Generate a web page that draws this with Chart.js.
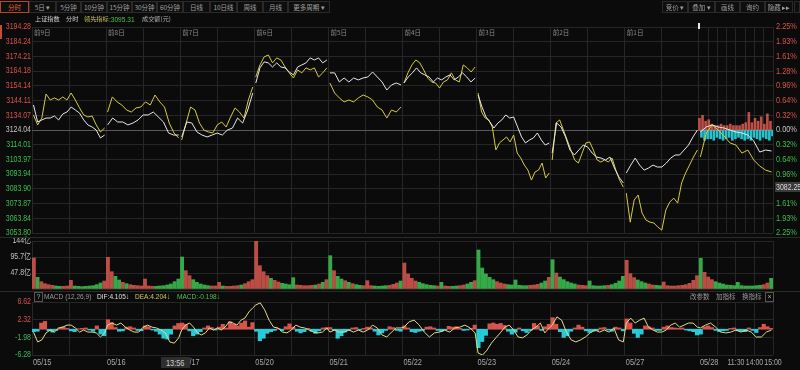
<!DOCTYPE html>
<html>
<head>
<meta charset="utf-8">
<script src="https://cdn.jsdelivr.net/npm/chart.js@4.4.1/dist/chart.umd.min.js"></script>
<style>
  html, body { margin: 0; padding: 0; background: #0b0b0b; }
  #wrap { position: relative; width: 800px; height: 370px; overflow: hidden; font-family: "Liberation Sans", Arial, sans-serif; }
  #wrap canvas { position: absolute; left: 0; top: 0; }
  .t { position: absolute; white-space: nowrap; line-height: 1; }
  .n { transform: scaleX(0.82); transform-origin: 0 50%; }
  .cn { font-family: "Noto Sans CJK SC", sans-serif; }
  .btn { position: absolute; top: 1px; height: 12px; border: 1px solid #2a2a2a; box-sizing: border-box; color: #a0a0a0; font: 6.5px "Noto Sans CJK SC", sans-serif; line-height: 10px; text-align: center; background: #0e0e0e; white-space: nowrap; overflow: hidden; }
  .sel { border-color: #b4482a; color: #e0622e; }
  .hl { position: absolute; left: 0; width: 800px; height: 1px; background: #2a2a2a; }
</style>
</head>
<body>
<div id="wrap">
  <canvas id="priceChart" width="800" height="370"></canvas>
  <canvas id="volChart" width="800" height="370"></canvas>
  <canvas id="macdChart" width="800" height="370"></canvas>

  <!-- toolbar -->
  <div class="btn sel" style="left:0;width:29px">分时</div>
  <div class="btn" style="left:29px;width:27px">5日 ▾</div>
  <div class="btn" style="left:56px;width:25px">5分钟</div>
  <div class="btn" style="left:81px;width:26px">10分钟</div>
  <div class="btn" style="left:107px;width:25px">15分钟</div>
  <div class="btn" style="left:132px;width:25px">30分钟</div>
  <div class="btn" style="left:157px;width:26px">60分钟</div>
  <div class="btn" style="left:183px;width:27px">日线</div>
  <div class="btn" style="left:210px;width:27px">10日线</div>
  <div class="btn" style="left:237px;width:26px">周线</div>
  <div class="btn" style="left:263px;width:25px">月线</div>
  <div class="btn" style="left:288px;width:42px">更多周期 ▾</div>
  <div class="btn" style="left:662px;width:26px">竞价 ▾</div>
  <div class="btn" style="left:688px;width:27px">叠加 ▾</div>
  <div class="btn" style="left:715px;width:25px">画线</div>
  <div class="btn" style="left:740px;width:25px">询约</div>
  <div class="btn" style="left:765px;width:28px">隐藏 ▸▸</div>
  <div class="btn" style="left:794px;width:6px"></div>

  <!-- legend -->
  <div class="t cn" style="left:35px;top:16px;font-size:6.2px;color:#d0d0d0">上证指数</div>
  <div class="t cn" style="left:66px;top:16px;font-size:6.2px;color:#d0d0d0">分时</div>
  <div class="t cn" style="left:84px;top:16px;font-size:6.2px;color:#c8c050">领先指标</div>
  <div class="t n" style="left:109px;top:16px;font-size:8px;color:#47c24a">:3095.31</div>
  <div class="t cn" style="left:142px;top:16px;font-size:6.2px;color:#b0b0b0">成交额(元)</div>
  <div style="position:absolute;left:0;top:25px;width:2px;height:14px;background:#c0502a"></div>

  <div class="hl" style="top:237px"></div>
  <div class="hl" style="top:291px"></div>

  <!-- MACD header -->
  <div class="t" style="left:34px;top:292px;width:7px;height:8px;border:1px solid #555;color:#aaa;font-size:7px;text-align:center;line-height:8px">?</div>
  <div class="t n" style="left:44px;top:293px;font-size:8px;color:#9a9a9a">MACD (12,26,9)</div>
  <div class="t n" style="left:97px;top:293px;font-size:8px;color:#e0e0e0">DIF:4.105↓</div>
  <div class="t n" style="left:135px;top:293px;font-size:8px;color:#d2c860">DEA:4.204↓</div>
  <div class="t n" style="left:177px;top:293px;font-size:8px;color:#4cc24c">MACD:-0.198↓</div>
  <div class="t cn" style="left:690px;top:293px;font-size:6.5px;color:#9a9a9a">改参数</div>
  <div class="t cn" style="left:716px;top:293px;font-size:6.5px;color:#9a9a9a">加指标</div>
  <div class="t cn" style="left:742px;top:293px;font-size:6.5px;color:#9a9a9a">换指标</div>
  <div class="t" style="left:765px;top:292px;width:7px;height:8px;border:1px solid #555;color:#aaa;font-size:7px;text-align:center;line-height:8px">×</div>

  <!-- crosshair readouts -->
  <div class="t" style="left:775px;top:182px;width:25px;height:10px;overflow:hidden;background:#3a3a3a"><div class="t n" style="left:1px;top:1px;font-size:8.5px;color:#d8d8d8">3082.25</div></div>
  <div class="t" style="left:161px;top:357px;width:29px;height:11px;background:#2e2e2e"><div class="t n" style="left:5px;top:1.5px;font-size:9px;color:#cfcfcf">13:56</div></div>
</div>

<script>
// ---- data ----
const days = ['05/15', '05/16', '05/17', '05/20', '05/21', '05/22', '05/23', '05/24', '05/27', '05/28'];
const dayTags = ['前9日', '前8日', '前7日', '前6日', '前5日', '前4日', '前3日', '前2日', '前1日'];
const timeLabels = ['11:30', '14:00', '15:00'];
const prevClose = 3124.04;
const priceTicks = [3194.28, 3184.24, 3174.21, 3164.18, 3154.14, 3144.11, 3134.07, 3124.04, 3114.01, 3103.97, 3093.94, 3083.90, 3073.87, 3063.84, 3053.80];
const pctTicks = ['2.25%', '1.93%', '1.61%', '1.28%', '0.96%', '0.64%', '0.32%', '0.00%', '0.32%', '0.64%', '0.96%', '1.28%', '1.61%', '1.93%', '2.25%'];

// 上证指数 (white), one list per day
const indexLine = [
  [3141.1, 3129.5, 3130.9, 3132.2, 3132.2, 3133.6, 3130.9, 3135.0, 3136.3, 3139.7, 3137.7, 3135.6, 3130.9, 3127.5, 3126.1, 3124.0, 3118.6, 3120.6],
  [3127.5, 3132.2, 3129.5, 3129.5, 3127.5, 3128.8, 3130.9, 3134.3, 3134.3, 3136.3, 3132.9, 3129.5, 3122.0, 3120.6, 3120.6],
  [3119.3, 3129.5, 3128.8, 3122.7, 3120.6, 3119.3, 3120.6, 3122.0, 3120.6, 3124.0, 3125.4, 3132.2, 3128.8, 3137.7, 3149.3],
  [3156.1, 3166.4, 3170.5, 3169.8, 3167.0, 3169.8, 3167.0, 3166.4, 3163.6, 3161.6, 3167.0, 3168.4, 3169.8, 3173.2, 3171.8, 3173.2, 3169.8, 3171.8],
  [3163.0, 3163.0, 3156.8, 3159.5, 3156.8, 3159.5, 3158.2, 3159.5, 3160.2, 3163.6, 3160.2, 3156.8, 3151.3, 3154.8, 3156.1, 3154.8],
  [3156.1, 3160.2, 3163.0, 3166.4, 3163.0, 3161.6, 3160.2, 3156.8, 3159.5, 3158.2, 3160.2, 3161.6, 3158.2, 3160.2, 3163.0, 3160.2, 3156.8, 3159.5],
  [3147.9, 3139.7, 3132.9, 3129.5, 3125.4, 3128.8, 3130.9, 3134.3, 3132.2, 3132.9, 3126.1, 3119.3, 3115.2, 3117.2, 3118.6, 3122.0, 3117.2, 3113.8, 3115.2],
  [3108.3, 3128.8, 3126.1, 3119.3, 3110.4, 3107.0, 3110.4, 3113.8, 3112.4, 3108.3, 3105.6, 3104.9, 3103.6, 3105.6, 3098.1, 3092.0, 3087.9],
  [3094.7, 3100.1, 3104.9, 3100.1, 3096.7, 3098.1, 3100.1, 3098.8, 3098.8, 3101.5, 3104.9, 3107.0, 3107.0, 3110.4, 3113.8, 3119.3, 3124.0],
  [3122.7, 3126.1, 3127.5, 3126.1, 3125.4, 3124.0, 3122.7, 3122.0, 3120.6, 3116.5, 3109.0, 3110.4, 3109.7]
];

// 领先指标 (yellow), one list per day
const leadLine = [
  [3134.3, 3127.5, 3132.2, 3148.6, 3144.5, 3145.9, 3144.5, 3146.6, 3144.5, 3149.3, 3144.5, 3139.1, 3134.3, 3132.9, 3133.6, 3127.5, 3122.7, 3125.4],
  [3136.3, 3146.6, 3143.2, 3141.1, 3137.7, 3136.3, 3139.1, 3139.7, 3143.2, 3141.1, 3147.9, 3143.2, 3139.7, 3128.8, 3122.0, 3118.6],
  [3117.2, 3128.8, 3139.7, 3137.7, 3128.8, 3124.0, 3122.7, 3122.0, 3127.5, 3129.5, 3126.1, 3132.9, 3139.1, 3136.3, 3132.2, 3144.5, 3153.4],
  [3160.2, 3168.4, 3173.9, 3175.2, 3169.8, 3173.2, 3171.8, 3167.0, 3163.0, 3159.5, 3165.0, 3163.0, 3166.4, 3165.0, 3166.4, 3160.2, 3163.0, 3166.4],
  [3156.1, 3149.3, 3145.9, 3143.2, 3144.5, 3143.2, 3145.9, 3147.9, 3146.6, 3144.5, 3139.7, 3137.7, 3132.2, 3137.7, 3136.3, 3139.7],
  [3156.1, 3163.0, 3168.4, 3171.8, 3169.8, 3165.0, 3159.5, 3156.8, 3156.1, 3152.7, 3156.8, 3158.2, 3163.0, 3158.2, 3156.8, 3168.4, 3166.4, 3163.6, 3167.0],
  [3149.3, 3136.3, 3132.2, 3130.9, 3126.1, 3110.4, 3115.2, 3117.2, 3119.3, 3115.9, 3120.6, 3108.3, 3104.9, 3100.1, 3096.7, 3089.9, 3095.4, 3096.7, 3101.5, 3091.3, 3094.7],
  [3103.6, 3128.8, 3130.9, 3124.0, 3117.2, 3110.4, 3103.6, 3101.5, 3108.3, 3115.2, 3115.9, 3110.4, 3103.6, 3102.2, 3103.6, 3102.2, 3104.9, 3096.7, 3089.9, 3085.1],
  [3081.0, 3061.2, 3076.3, 3079.7, 3067.4, 3062.6, 3061.2, 3060.6, 3057.8, 3055.8, 3069.4, 3074.9, 3077.6, 3074.2, 3087.9, 3094.7, 3100.1, 3105.6, 3110.4],
  [3105.6, 3122.0, 3127.5, 3124.0, 3119.9, 3115.2, 3113.8, 3108.3, 3110.4, 3103.6, 3099.5, 3096.7, 3095.4]
];

// today's red / cyan bars around the previous close (index points)
const todayBuy = [8, 10, 6, 7, 4, 3, 3, 4, 3, 3, 4, 3, 3, 3, 4, 5, 12, 5, 8, 6, 9, 4, 11, 6];
const todaySell = [-5, -7, -6, -6, -7, -5, -6, -7, -6, -5, -7, -6, -5, -6, -7, -6, -7, -5, -6, -7, -5, -6, -7, -4];

// 成交额 (亿), 20 bars per day
const volume = [
  [93, 35, 22, 16, 13, 11, 9, 8, 8, 9, 26, 9, 8, 7, 8, 9, 10, 13, 18, 24],
  [95, 52, 38, 27, 20, 16, 13, 11, 10, 9, 30, 9, 8, 8, 9, 10, 12, 15, 22, 30],
  [96, 55, 40, 28, 20, 15, 12, 10, 9, 9, 20, 9, 8, 8, 9, 10, 12, 16, 22, 28],
  [144, 70, 52, 40, 32, 26, 21, 17, 15, 13, 34, 12, 11, 10, 10, 11, 12, 15, 20, 28],
  [100, 55, 38, 30, 25, 20, 16, 13, 11, 10, 25, 10, 9, 8, 9, 10, 11, 14, 18, 24],
  [78, 45, 32, 24, 20, 16, 13, 11, 10, 9, 20, 9, 8, 8, 9, 10, 12, 15, 20, 25],
  [117, 63, 45, 35, 28, 22, 18, 15, 13, 12, 27, 11, 10, 10, 11, 12, 14, 18, 24, 35],
  [88, 48, 36, 28, 22, 18, 15, 12, 11, 10, 24, 10, 9, 9, 10, 11, 13, 17, 24, 38],
  [86, 46, 34, 27, 22, 18, 15, 12, 11, 10, 21, 10, 9, 9, 10, 11, 13, 17, 26, 40],
  [92, 50, 36, 28, 22, 18, 15, 12, 11, 10, 20, 10, 9, 9, 9, 10, 11, 13, 18, 32]
];
const volTicks = [0, 47.8, 95.7, 144];
const volTickLabels = ['', '47.8亿', '95.7亿', '144亿'];

// MACD histogram, 20 bars per day
const macdBars = [
  [-0.6, -0.5, 1.5, 1.9, -0.4, -0.7, -0.3, 0.3, 0.6, 0.2, -0.4, -0.6, 0.1, 0.2, 0.3, -0.2, -0.5, 0.8, -1.2, -1.6],
  [2.3, 1.6, 0.4, -0.5, -0.4, 0.5, 0.6, 0.3, -0.3, -0.4, 0.8, 0.6, -0.2, -0.5, -1.2, -2.2, -2.4, -1.2, 0.8, 1.4],
  [1.5, 1.2, -0.4, -1.6, -1.2, -0.6, 0.3, 0.8, 0.4, -0.2, 0.5, 1.2, 0.3, 1.8, 1.2, 0.8, 1.5, 2.0, 0.5, 1.6],
  [-0.5, -2.8, -2.2, -1.0, -0.6, -0.3, 0.2, -0.4, 0.6, 1.3, 0.5, -0.5, -0.9, -0.6, 0.2, -0.5, -1.0, -0.4, 0.3, 0.4],
  [0.4, -0.3, -2.2, -1.6, -0.7, -0.3, 0.3, 0.4, -0.2, 0.2, 0.5, 0.3, -0.5, -1.4, -0.9, -0.3, 0.6, 0.4, -0.3, -0.5],
  [0.8, 0.3, -0.6, -0.8, -0.5, -0.3, 0.5, 0.6, 0.3, -0.3, -0.6, -0.2, 0.7, 0.5, 0.6, 0.2, -0.3, -0.2, 0.2, 1.0],
  [-4.5, -3.0, -1.5, 1.3, 1.5, 1.2, 1.4, 0.9, -0.5, -1.2, -0.7, 0.3, -0.4, -0.8, -0.3, 1.4, 0.8, -0.3, 0.6, 1.2],
  [2.8, 1.2, -0.6, -2.0, -1.6, -0.5, 0.3, 1.0, 0.5, -0.4, -0.8, -0.5, -0.3, 0.3, 0.4, -0.2, -0.5, 0.5, 0.3, -0.4],
  [2.5, 1.5, -1.0, -2.0, -1.2, 0.8, 0.6, 0.3, -0.3, -0.3, 0.5, 0.8, 0.4, 0.3, 0.2, 0.3, -0.2, -0.4, -0.6, -1.4],
  [-1.2, 0.6, 0.8, 0.4, -0.3, -0.6, -0.4, -0.3, 0.2, 0.3, -0.4, -0.5, -0.6, 0.3, -0.3, -0.8, 0.4, 1.2, 0.6, 0.2]
];

// MACD line, one list per day
const macdLine = [
  [-0.7, -3.1, -2.6, -0.9, -0.2, -0.7, 0.3, 0.5, 1.0, 1.0, 0.3, -0.7, -0.2, -0.7, -0.7, -0.9, -1.9, -0.9],
  [1.0, 1.5, 1.0, 1.5, 0.5, -0.2, -0.7, -0.7, 0.5, 1.0, 0.5, 0.3, -0.2, -0.9, -3.1, -3.4, -2.1],
  [-0.2, 1.0, 1.5, 0.5, -0.9, -1.4, -0.9, 0.3, -0.2, 0.3, -0.2, 0.5, 1.8, 1.5, 1.0, 2.2, 2.7, 4.2, 5.2],
  [5.9, 6.4, 4.7, 2.2, 0.5, 0.3, -0.7, -0.9, -0.2, 1.0, 0.5, 0.3, -0.2, -0.7, -0.9, -0.7, 0.3],
  [-0.7, -0.2, -0.7, -0.7, -0.2, -0.7, -0.2, -0.7, -0.2, 1.0, 0.3, -1.4, -1.9, -0.7, 0.3, 0.3],
  [0.5, 1.8, 2.2, 1.0, -0.7, -1.9, -0.9, -0.7, -0.2, -0.7, 0.3, 0.5, 1.0, 0.3, -0.9],
  [-5.8, -6.3, -5.1, -3.4, -2.1, -0.9, 0.5, 1.0, -0.2, -1.9, -2.1, -1.4, -0.2, 0.5, 1.5, -0.9, 0.3],
  [1.0, 3.0, 2.2, -0.7, -2.6, -3.1, -2.6, -1.9, -0.9, -0.2, -0.7, -0.2, -0.7, 0.3, -2.6, -3.1],
  [1.5, 2.7, 1.5, 2.2, 2.7, 0.5, -0.2, -0.7, -0.7, -0.2, 1.0, 1.5, 0.5, 1.0, 1.5, 1.5, 0.5],
  [0.3, 1.0, 1.5, 0.5, -0.7, -0.9, -0.7, -0.2, -0.7, -0.2, -0.7, -1.9, -1.9, -0.7, -0.2]
];
const macdTicks = [-6.28, -1.98, 2.32, 6.62];

// ---- helpers ----
const RED = '#d9524a', GREEN = '#3dbf4f', GRID = '#262626';
const FONT = '"Liberation Sans", Arial, sans-serif';
const SQUEEZE = 0.82;   // the terminal uses a narrow face

Chart.defaults.font.family = FONT;
Chart.defaults.font.size = 9;
Chart.defaults.animation = false;
Chart.defaults.events = [];

function narrowText(ctx, text, x, y, align, color, size) {
  ctx.save();
  ctx.font = size + 'px ' + FONT + ', "Noto Sans CJK SC"';
  ctx.fillStyle = color;
  ctx.textAlign = align;
  ctx.textBaseline = 'middle';
  ctx.translate(x, y);
  ctx.scale(SQUEEZE, 1);
  ctx.fillText(text, 0, 0);
  ctx.restore();
}

// draws y tick labels of the given scales with a narrow face
function tickPlugin(specs) {
  return {
    id: 'narrowTicks',
    afterDraw(chart) {
      const ctx = chart.ctx;
      specs.forEach(sp => {
        const s = chart.scales[sp.id];
        s.ticks.forEach((t, i) => {
          const label = sp.label(t.value, i);
          if (!label) return;
          const y = s.getPixelForValue(t.value);
          const x = sp.side === 'left' ? s.right - 1 : s.left + 3;
          narrowText(ctx, label, x, y, sp.side === 'left' ? 'right' : 'left', sp.color(t.value), sp.size || 8.5);
        });
      });
    }
  };
}

function dayPos(d, i, n) { return d + 0.02 + 0.96 * i / (n - 1); }

function linePoints(perDay, breakDays) {
  const pts = [];
  perDay.forEach((arr, d) => {
    arr.forEach((v, i) => pts.push({ x: dayPos(d, i, arr.length), y: v }));
    if (breakDays) pts.push({ x: d + 0.99, y: null });
  });
  return pts;
}

function indexAt(d, f) {
  const arr = indexLine[d], n = arr.length;
  let p = (f - 0.02) / 0.96 * (n - 1);
  p = Math.max(0, Math.min(n - 1, p));
  const i = Math.floor(p), t = p - i;
  return i >= n - 1 ? arr[n - 1] : arr[i] * (1 - t) + arr[i + 1] * t;
}

function gridX(todaySteps) {
  const t = [];
  for (let d = 0; d < 9; d++) t.push(d, d + 0.5);
  for (let k = 0; k <= todaySteps; k++) t.push(9 + k / todaySteps);
  return t;
}

function xAxis(todaySteps) {
  const ticks = gridX(todaySteps);
  return {
    type: 'linear', min: 0, max: 10, offset: false,
    ticks: { display: false },
    grid: { color: GRID, drawTicks: false, offset: false },
    border: { display: false },
    afterBuildTicks: s => { s.ticks = ticks.map(v => ({ value: v })); },
    afterFit: s => { s.height = 0; }
  };
}

function yAxis(ticks, width, position, gridColor) {
  return {
    position, min: Math.min(...ticks), max: Math.max(...ticks),
    afterBuildTicks: s => { s.ticks = ticks.map(v => ({ value: v })); },
    afterFit: s => { s.width = width; },
    ticks: { display: false },
    grid: gridColor ? { drawTicks: false, color: gridColor } : { display: false, drawTicks: false },
    border: { display: false }
  };
}

function priceColor(v) {
  if (Math.abs(v - prevClose) < 0.01) return '#c4c4c4';
  return v > prevClose ? RED : GREEN;
}

const noPlugins = { legend: { display: false }, tooltip: { enabled: false } };

// ---- price panel ----
const dayTagPlugin = {
  id: 'dayTags',
  afterDraw(chart) {
    const { ctx, scales: { x } } = chart;
    ctx.save();
    ctx.font = '6.5px "Noto Sans CJK SC", sans-serif';
    ctx.fillStyle = '#8a8a8a';
    ctx.textBaseline = 'middle';
    dayTags.forEach((t, i) => ctx.fillText(t, x.getPixelForValue(i) + 2, 33));
    ctx.fillStyle = '#e6e6e6';
    ctx.fillRect(Math.round(x.getPixelForValue(9)) - 1, 23, 2, 6);
    ctx.restore();
  }
};

new Chart(document.getElementById('priceChart'), {
  type: 'line',
  data: {
    datasets: [
      { data: linePoints(indexLine, true), borderColor: '#e8e8e8', borderWidth: 1, pointRadius: 0, tension: 0, spanGaps: false },
      { data: linePoints(leadLine, true), borderColor: '#d6cc3c', borderWidth: 1, pointRadius: 0, tension: 0, spanGaps: false },
      { type: 'bar', data: todayBuy.map((v, j) => ({ x: 9 + (j + 0.5) / todayBuy.length, y: [prevClose, prevClose + v] })),
        backgroundColor: 'rgba(220,90,80,0.85)', barThickness: 2 },
      { type: 'bar', data: todaySell.map((v, j) => ({ x: 9 + (j + 0.5) / todaySell.length, y: [prevClose, prevClose + v] })),
        backgroundColor: 'rgba(40,214,226,0.9)', barThickness: 2 }
    ]
  },
  options: {
    responsive: false,
    layout: { autoPadding: false, padding: { top: 27, bottom: 137, left: 0, right: 0 } },
    plugins: noPlugins,
    scales: {
      x: xAxis(8),
      y: yAxis(priceTicks, 32, 'left', c => (c.tick && Math.abs(c.tick.value - prevClose) < 0.01) ? '#5a5a5a' : GRID),
      y2: yAxis(priceTicks, 27, 'right', null)
    }
  },
  plugins: [dayTagPlugin, tickPlugin([
    { id: 'y', side: 'left', label: v => v.toFixed(2), color: priceColor },
    { id: 'y2', side: 'right', label: (v, i) => pctTicks[i], color: priceColor, size: 9 }
  ])]
});

// ---- volume panel ----
const volPoints = [], volColors = [];
volume.forEach((arr, d) => {
  arr.forEach((v, j) => {
    const f = (j + 0.5) / arr.length;
    const now = indexAt(d, f);
    const before = j === 0 ? (d > 0 ? indexAt(d - 1, 1) : now - 1) : indexAt(d, f - 1 / arr.length);
    volPoints.push({ x: d + f, y: v });
    volColors.push(now >= before ? 'rgba(205,84,74,0.9)' : 'rgba(58,186,78,0.9)');
  });
});

new Chart(document.getElementById('volChart'), {
  type: 'bar',
  data: { datasets: [{ data: volPoints, backgroundColor: volColors, barThickness: 3.2 }] },
  options: {
    responsive: false,
    layout: { autoPadding: false, padding: { top: 241, bottom: 81, left: 0, right: 27 } },
    plugins: noPlugins,
    scales: { x: xAxis(4), y: yAxis(volTicks, 32, 'left', GRID) }
  },
  plugins: [tickPlugin([{ id: 'y', side: 'left', label: (v, i) => volTickLabels[i], color: () => '#c0c0c0' }])]
});

// ---- MACD panel ----
const axisLabelPlugin = {
  id: 'axisLabels',
  afterDraw(chart) {
    const { ctx, scales: { x } } = chart;
    days.forEach((d, i) => narrowText(ctx, d, x.getPixelForValue(i) + 1, 363, 'left', '#a8a8a8', 9));
    timeLabels.forEach(t => {
      const [h, m] = t.split(':').map(Number);
      let min = h * 60 + m - 570;
      if (min > 120) min -= 90;
      narrowText(ctx, t, x.getPixelForValue(9 + min / 240), 363, 'center', '#a8a8a8', 8.5);
    });
  }
};

const macdPoints = [];
macdBars.forEach((arr, d) => arr.forEach((v, j) => macdPoints.push({ x: d + (j + 0.5) / arr.length, y: v })));

new Chart(document.getElementById('macdChart'), {
  type: 'bar',
  data: {
    datasets: [
      { type: 'line', order: 0, data: linePoints(macdLine, false), borderColor: '#e4da8a', borderWidth: 1, pointRadius: 0, tension: 0 },
      { order: 1, data: macdPoints, barThickness: 3.5,
        backgroundColor: macdPoints.map(p => p.y >= 0 ? 'rgba(226,88,80,0.95)' : 'rgba(40,214,226,0.95)') }
    ]
  },
  options: {
    responsive: false,
    layout: { autoPadding: false, padding: { top: 302, bottom: 15, left: 0, right: 27 } },
    plugins: noPlugins,
    scales: { x: xAxis(4), y: yAxis(macdTicks, 32, 'left', GRID) }
  },
  plugins: [axisLabelPlugin, tickPlugin([{ id: 'y', side: 'left', label: v => v.toFixed(2), color: v => v > 0 ? RED : GREEN }])]
});
</script>
</body>
</html>
